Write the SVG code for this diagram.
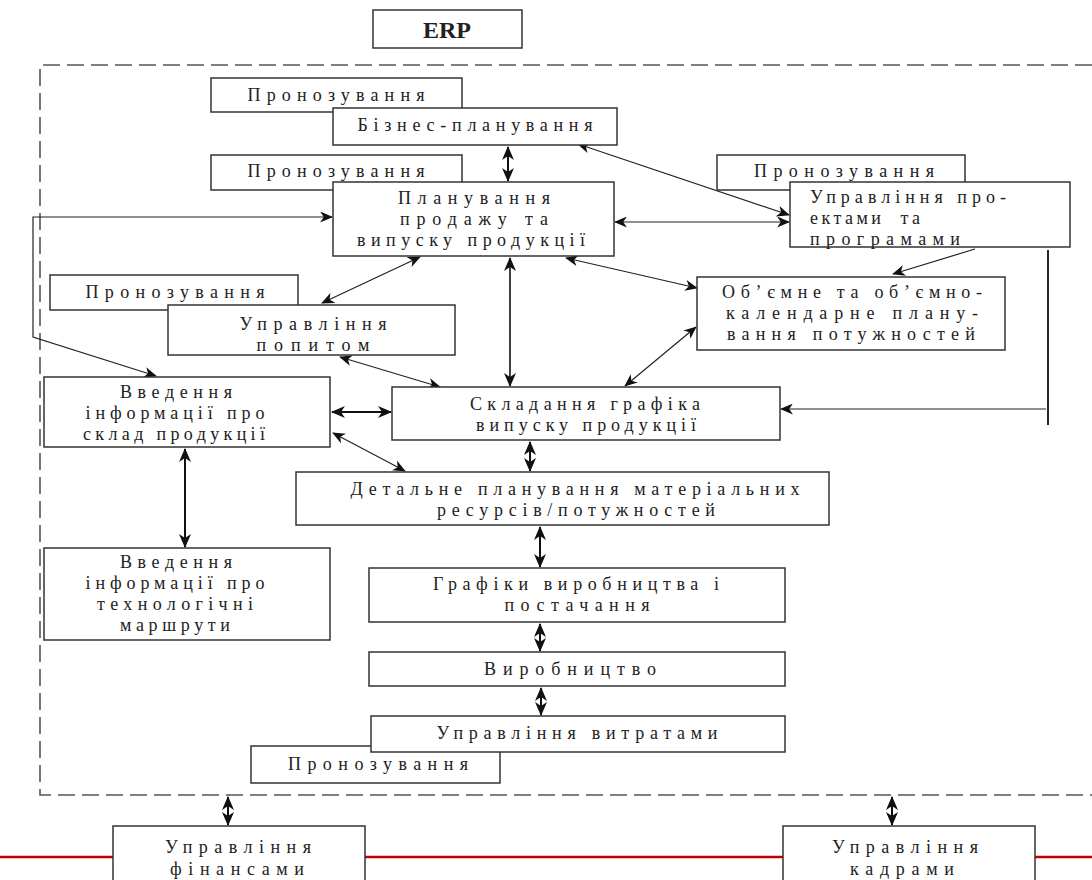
<svg xmlns="http://www.w3.org/2000/svg" width="1092" height="880" viewBox="0 0 1092 880">
<defs>
<marker id="ah" viewBox="0 0 14 12" refX="13" refY="6" markerWidth="14" markerHeight="12" markerUnits="userSpaceOnUse" orient="auto-start-reverse">
<path d="M0,0 L14,6 L0,12 L4,6 Z" fill="#111"/>
</marker>
<marker id="ahs" viewBox="0 0 14 12" refX="13" refY="6" markerWidth="13" markerHeight="11" markerUnits="userSpaceOnUse" orient="auto-start-reverse">
<path d="M0,0 L14,6 L0,12 L4,6 Z" fill="#111"/>
</marker>
</defs>
<style>
.b{fill:#fff;stroke:#333;stroke-width:1.5}
.t{font-family:"Liberation Serif","Times New Roman",serif;font-size:18px;fill:#222;text-anchor:middle}
.l{text-anchor:start;white-space:pre}
.c{fill:none;stroke:#222;stroke-width:1.2}
.k{fill:none;stroke:#111;stroke-width:2}
.d{fill:none;stroke:#555;stroke-width:1.6;stroke-dasharray:17 7}
</style>
<rect width="1092" height="880" fill="#fff"/>

<g id="erp">
<rect class="b" x="373" y="10" width="149" height="38"/>
<text class="t" x="447" y="38" style="font-weight:bold;font-size:24px">ERP</text>
</g>

<path id="erp-boundary" class="d" d="M1092,65 H40 V795 H1092"/>

<line x1="0" y1="857" x2="1092" y2="857" stroke="#c00000" stroke-width="2.5"/>

<g id="connectors">
<line class="k" x1="508" y1="147" x2="508" y2="181" marker-start="url(#ah)" marker-end="url(#ah)"/>
<line class="c" x1="578" y1="144" x2="789" y2="215" marker-start="url(#ahs)" marker-end="url(#ahs)"/>
<line class="c" x1="615" y1="222" x2="789" y2="222" marker-start="url(#ahs)" marker-end="url(#ahs)"/>
<line class="c" x1="975" y1="249" x2="893" y2="274" marker-end="url(#ahs)"/>
<polyline class="k" points="1048,250 1048,425" style="stroke-width:1.8"/>
<line class="c" x1="1046" y1="409" x2="781" y2="409" marker-end="url(#ahs)"/>
<line class="c" x1="566" y1="258" x2="697" y2="288" marker-start="url(#ahs)" marker-end="url(#ahs)"/>
<line class="c" x1="420" y1="257" x2="322" y2="303" marker-start="url(#ahs)" marker-end="url(#ahs)"/>
<line class="k" x1="510" y1="258" x2="510" y2="386" style="stroke-width:1.6" marker-start="url(#ah)" marker-end="url(#ah)"/>
<polyline class="c" points="156,376 33,337 33,217 332,217" marker-start="url(#ahs)" marker-end="url(#ahs)"/>
<line class="c" x1="340" y1="357" x2="440" y2="387" marker-start="url(#ahs)" marker-end="url(#ahs)"/>
<line class="c" x1="696" y1="327" x2="625" y2="386" marker-start="url(#ahs)" marker-end="url(#ahs)"/>
<line class="k" x1="332" y1="412" x2="391" y2="412" marker-start="url(#ah)" marker-end="url(#ah)"/>
<line class="c" x1="333" y1="433" x2="405" y2="471" marker-start="url(#ahs)" marker-end="url(#ahs)"/>
<line class="k" x1="530" y1="442" x2="530" y2="471" marker-start="url(#ah)" marker-end="url(#ah)"/>
<line class="k" x1="185" y1="449" x2="185" y2="547" marker-start="url(#ah)" marker-end="url(#ah)"/>
<line class="k" x1="540" y1="527" x2="540" y2="567" marker-start="url(#ah)" marker-end="url(#ah)"/>
<line class="k" x1="540" y1="624" x2="540" y2="651" marker-start="url(#ah)" marker-end="url(#ah)"/>
<line class="k" x1="541" y1="688" x2="541" y2="715" marker-start="url(#ah)" marker-end="url(#ah)"/>
<line class="k" x1="228" y1="797" x2="228" y2="825" marker-start="url(#ah)" marker-end="url(#ah)"/>
<line class="k" x1="892" y1="797" x2="892" y2="825" marker-start="url(#ah)" marker-end="url(#ah)"/>
</g>

<g id="prognoz1">
<rect class="b" x="211" y="78" width="251" height="34"/>
<text class="t" x="336" y="101" textLength="177">Пронозування</text>
</g>
<g id="business-planning">
<rect class="b" x="333" y="108" width="284" height="37"/>
<text class="t" x="475" y="131" textLength="235">Бізнес-планування</text>
</g>

<g id="prognoz2">
<rect class="b" x="211" y="155" width="251" height="35"/>
<text class="t" x="336" y="177" textLength="177">Пронозування</text>
</g>
<g id="sales-planning">
<rect class="b" x="333" y="182" width="281" height="74"/>
<text class="t" x="474" y="204" textLength="152">Планування</text>
<text class="t" x="474" y="225" textLength="148">продажу та</text>
<text class="t" x="471" y="246" textLength="228">випуску продукції</text>
</g>

<g id="prognoz3">
<rect class="b" x="717" y="155" width="248" height="35"/>
<text class="t" x="844" y="177" textLength="180">Пронозування</text>
</g>
<g id="project-management">
<rect class="b" x="790" y="182" width="280" height="65"/>
<text class="t l" x="810" y="203" textLength="196">Управління про-</text>
<text class="t l" x="810" y="224" textLength="110">ектами  та</text>
<text class="t l" x="810" y="245" textLength="150">програмами</text>
</g>

<g id="capacity-planning">
<rect class="b" x="697" y="277" width="308" height="73"/>
<text class="t" x="852" y="298" textLength="260">Об’ємне та об’ємно-</text>
<text class="t" x="852" y="319" textLength="252">календарне плану-</text>
<text class="t" x="851" y="340" textLength="248">вання потужностей</text>
</g>

<g id="prognoz4">
<rect class="b" x="50" y="275" width="248" height="35"/>
<text class="t" x="175" y="298" textLength="179">Пронозування</text>
</g>
<g id="demand-management">
<rect class="b" x="168" y="305" width="287" height="50"/>
<text class="t" x="313" y="330" textLength="147">Управління</text>
<text class="t" x="313" y="351" textLength="113">попитом</text>
</g>

<g id="bom-input">
<rect class="b" x="44" y="377" width="286" height="70"/>
<text class="t" x="176" y="398" textLength="112">Введення</text>
<text class="t" x="175" y="419" textLength="179">інформації про</text>
<text class="t" x="174" y="440" textLength="182">склад продукції</text>
</g>

<g id="master-schedule">
<rect class="b" x="392" y="387" width="388" height="53"/>
<text class="t" x="585" y="410" textLength="230">Складання графіка</text>
<text class="t" x="586" y="431" textLength="220">випуску продукції</text>
</g>

<g id="detailed-planning">
<rect class="b" x="296" y="472" width="533" height="53"/>
<text class="t" x="575" y="495" textLength="449">Детальне планування матеріальних</text>
<text class="t" x="576" y="516" textLength="278">ресурсів/потужностей</text>
</g>

<g id="routing-input">
<rect class="b" x="44" y="548" width="286" height="92"/>
<text class="t" x="176" y="568" textLength="112">Введення</text>
<text class="t" x="175" y="589" textLength="179">інформації про</text>
<text class="t" x="175" y="610" textLength="156">технологічні</text>
<text class="t" x="175" y="631" textLength="110">маршрути</text>
</g>

<g id="production-schedules">
<rect class="b" x="369" y="568" width="416" height="54"/>
<text class="t" x="576" y="590" textLength="286">Графіки виробництва і</text>
<text class="t" x="577" y="611" textLength="145">постачання</text>
</g>

<g id="production">
<rect class="b" x="369" y="652" width="416" height="34"/>
<text class="t" x="570" y="675" textLength="172">Виробництво</text>
</g>

<g id="prognoz5">
<rect class="b" x="251" y="746" width="249" height="37"/>
<text class="t" x="378" y="770" textLength="180">Пронозування</text>
</g>
<g id="cost-management">
<rect class="b" x="371" y="716" width="414" height="36"/>
<text class="t" x="577" y="739" textLength="281">Управління витратами</text>
</g>

<g id="finance-management">
<rect class="b" x="113" y="826" width="252" height="60"/>
<text class="t" x="238" y="853" textLength="146">Управління</text>
<text class="t" x="237" y="875" textLength="134">фінансами</text>
</g>

<g id="hr-management">
<rect class="b" x="783" y="826" width="252" height="60"/>
<text class="t" x="905" y="853" textLength="146">Управління</text>
<text class="t" x="902" y="875" textLength="104">кадрами</text>
</g>
</svg>
